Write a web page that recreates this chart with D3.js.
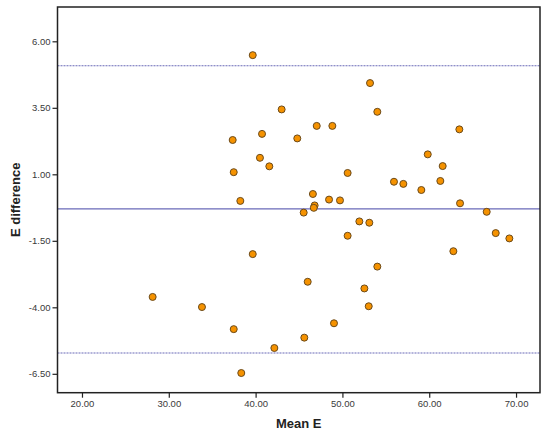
<!DOCTYPE html>
<html><head><meta charset="utf-8">
<script src="https://cdn.jsdelivr.net/npm/d3@7"></script>
<style>body{margin:0;background:#fff;} svg{display:block;}</style>
</head><body>
<svg id="c" width="550" height="437"></svg>
<script>
const meanE = [39.67,43.0,47.04,48.84,37.36,40.74,44.8,40.5,41.58,37.48,50.6,38.24,46.6,48.46,49.72,46.8,46.7,45.54,53.18,54.02,63.47,59.83,61.55,55.94,57.02,61.28,59.09,63.55,66.62,39.67,46.0,28.14,33.82,37.48,49.03,45.61,42.16,38.35,50.6,51.95,53.1,54.02,52.53,53.03,67.66,69.23,62.78];
const diffE = [5.48,3.44,2.82,2.82,2.29,2.52,2.35,1.62,1.30,1.08,1.05,0.0,0.26,0.05,0.02,-0.17,-0.26,-0.44,4.43,3.35,2.69,1.75,1.31,0.72,0.64,0.75,0.41,-0.09,-0.41,-2.0,-3.04,-3.61,-3.99,-4.82,-4.60,-5.14,-5.53,-6.47,-1.31,-0.77,-0.82,-2.47,-3.29,-3.96,-1.21,-1.41,-1.89];
const refLines = [5.08,-0.30,-5.72];
const refDashed = [true,false,true];
const xTicks = [20,30,40,50,60,70];
const yTicks = [6,3.5,1,-1.5,-4,-6.5];

const svg = d3.select("#c");
const L=57.5, R=540, T=7, B=392.7;
const x = d3.scaleLinear().domain([17.18,72.76]).range([L,R]);
const y = d3.scaleLinear().domain([7.29,-7.21]).range([T,B]);
const fmt = d => d.toFixed(2);

// reference lines
svg.append("g").selectAll("line").data(refLines).join("line")
  .attr("x1",L).attr("x2",R)
  .attr("y1",d=>y(d)).attr("y2",d=>y(d))
  .attr("stroke","#6a6ab8")
  .attr("stroke-width",(d,i)=>refDashed[i]?1.1:1.2)
  .attr("stroke-dasharray",(d,i)=>refDashed[i]?"2,1":null);

// points
svg.append("g").selectAll("circle").data(meanE.map((m,i)=>[m,diffE[i]])).join("circle")
  .attr("cx",d=>x(d[0])).attr("cy",d=>y(d[1])).attr("r",3.5)
  .attr("fill","#f59200").attr("stroke","#6b4a1a").attr("stroke-width",1);

// frame
svg.append("rect").attr("x",L).attr("y",T).attr("width",R-L).attr("height",B-T)
  .attr("fill","none").attr("stroke","#222").attr("stroke-width",1.5);

// axes
const xa = svg.append("g").attr("transform",`translate(0,${B})`)
  .call(d3.axisBottom(x).tickValues(xTicks).tickFormat(fmt).tickSize(5).tickPadding(3));
const ya = svg.append("g").attr("transform",`translate(${L},0)`)
  .call(d3.axisLeft(y).tickValues(yTicks).tickFormat(fmt).tickSize(5).tickPadding(2));
[xa,ya].forEach(a=>{
  a.select(".domain").remove();
  a.selectAll(".tick line").attr("stroke","#222").attr("stroke-width",1.2);
  a.selectAll(".tick text").attr("fill","#3a3a3a").style("font-family","Liberation Sans, Arial, sans-serif").style("font-size","9.5px");
});

svg.append("text").attr("x",(L+R)/2).attr("y",428).attr("text-anchor","middle")
  .style("font-family","Liberation Sans, Arial, sans-serif").style("font-weight","bold").style("font-size","13px")
  .attr("fill","#222").text("Mean E");
svg.append("text").attr("transform",`translate(20,${(T+B)/2}) rotate(-90)`).attr("text-anchor","middle")
  .style("font-family","Liberation Sans, Arial, sans-serif").style("font-weight","bold").style("font-size","13px")
  .attr("fill","#222").text("E difference");
</script>
</body></html>
